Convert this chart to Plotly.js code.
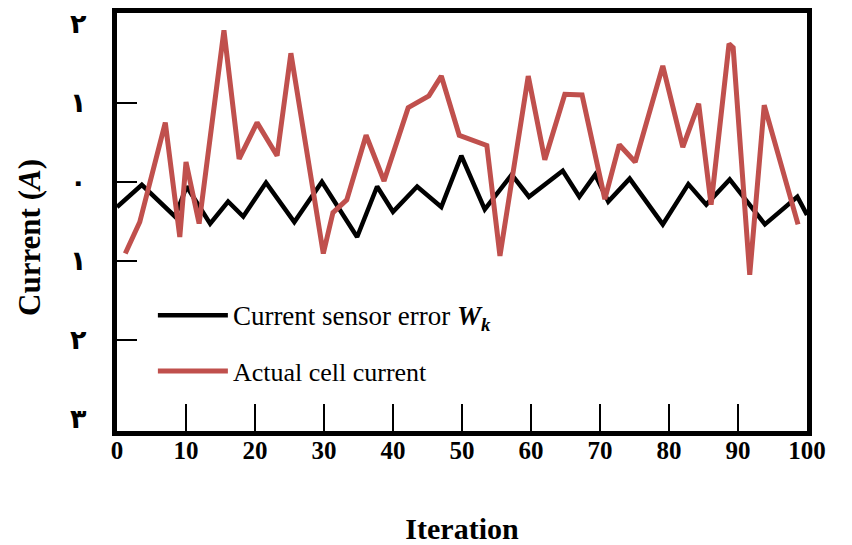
<!DOCTYPE html>
<html>
<head>
<meta charset="utf-8">
<script src="https://cdn.plot.ly/plotly-3.0.1.min.js"></script>
<style>
  html, body { margin: 0; padding: 0; background: #ffffff; }
  #chart { width: 852px; height: 545px; }
</style>
</head>
<body>
<div id="chart"></div>
<script>
// Current sensor error w_k (black trace)
const errIter = [0, 3.6, 8.4, 10.1, 13.5, 16.1, 18.3, 21.6, 25.7, 29.7, 34.8, 37.7, 40.0, 43.5, 47.0, 49.9,
  53.3, 57.2, 59.7, 64.6, 67.0, 69.3, 71.2, 74.3, 79.1, 82.8, 85.4, 88.8, 93.9, 98.6, 100];
const errValue = [-0.32, -0.04, -0.44, -0.06, -0.53, -0.25, -0.44, -0.01, -0.51, 0.00, -0.70, -0.06, -0.38, -0.06, -0.32, 0.33,
  -0.35, 0.09, -0.19, 0.14, -0.19, 0.09, -0.25, 0.04, -0.54, -0.03, -0.29, 0.03, -0.54, -0.19, -0.42];

// Actual cell current (red trace)
const cellIter = [1.2, 3.3, 7.0, 9.1, 10.0, 11.9, 15.5, 17.7, 20.3, 23.2, 25.2, 29.9, 31.3, 33.3, 36.1, 38.7,
  42.2, 45.2, 47.0, 49.6, 53.6, 55.5, 59.6, 62.0, 64.9, 67.4, 70.7, 72.8, 75.1, 79.1, 82.0, 84.3, 86.1,
  88.7, 89.3, 91.7, 93.8, 98.7];
const cellValue = [-0.91, -0.51, 0.75, -0.70, 0.25, -0.53, 1.92, 0.29, 0.75, 0.33, 1.63, -0.91, -0.39, -0.23, 0.59, 0.01,
  0.94, 1.09, 1.34, 0.59, 0.46, -0.94, 1.34, 0.28, 1.11, 1.10, -0.22, 0.47, 0.25, 1.47, 0.44, 0.99, -0.29,
  1.75, 1.70, -1.18, 0.97, -0.54];

// Axis ticks
const xTickVals = [0, 10, 20, 30, 40, 50, 60, 70, 80, 90, 100];
const xTickText = ['0', '10', '20', '30', '40', '50', '60', '70', '80', '90', '100'];
const yTickVals = [2, 1, 0, -1, -2, -3];
const yTickText = ['٢', '١', '٠', '١', '٢', '٣'];
const yMarkVals = [1, 0, -1, -2];

const serif = 'Liberation Serif, Times New Roman, serif';

const traces = [
  {
    x: errIter, y: errValue, type: 'scatter', mode: 'lines',
    name: '<span style="font-size:27px">Current sensor error <b><i>W</i></b><sub><b><i>k</i></b></sub></span>',
    line: { color: '#000000', width: 4.5 },
    legendgroup: 'a'
  },
  {
    x: cellIter, y: cellValue, type: 'scatter', mode: 'lines',
    name: 'Actual cell current',
    line: { color: '#c0504d', width: 5 },
    legendgroup: 'b'
  }
];

const layout = {
  width: 852, height: 545,
  margin: { l: 117, r: 45, t: 13, b: 114 },
  paper_bgcolor: '#ffffff', plot_bgcolor: '#ffffff',
  showlegend: true,
  legend: {
    x: 0.052, y: 0.333, xanchor: 'left', yanchor: 'top',
    bgcolor: 'rgba(0,0,0,0)', borderwidth: 0,
    font: { family: serif, size: 26, color: '#000000' },
    tracegroupgap: 19, itemwidth: 70
  },
  xaxis: {
    range: [0, 100], showgrid: false, zeroline: false,
    showline: true, mirror: true, linecolor: '#000000', linewidth: 5,
    tickmode: 'array', tickvals: xTickVals, ticktext: xTickText,
    ticks: 'inside', ticklen: 27, tickwidth: 2, tickcolor: '#000000',
    ticklabelstandoff: -7,
    tickfont: { family: serif, size: 25, color: '#000000', weight: 'bold' },
    title: { text: '<b>Iteration</b>', font: { family: serif, size: 30, color: '#000000' }, standoff: 57 }
  },
  yaxis: {
    range: [-3.16, 2.14], showgrid: false, zeroline: false,
    showline: true, mirror: true, linecolor: '#000000', linewidth: 5,
    tickmode: 'array', tickvals: yTickVals, ticktext: yTickText,
    ticks: '', ticklabelstandoff: 20,
    tickfont: { family: 'DejaVu Sans, ' + serif, size: 27, color: '#000000', weight: 'bold' },
    minor: { tickmode: 'array', tickvals: yMarkVals, ticks: 'inside', ticklen: 20, tickwidth: 2, tickcolor: '#000000' },
    title: { text: '<b>Current (<i>A</i>)</b>&nbsp;&nbsp;&nbsp;&nbsp;', font: { family: serif, size: 31, color: '#000000' }, standoff: 22 }
  }
};

Plotly.newPlot('chart', traces, layout, { displayModeBar: false, staticPlot: true });
</script>
</body>
</html>
